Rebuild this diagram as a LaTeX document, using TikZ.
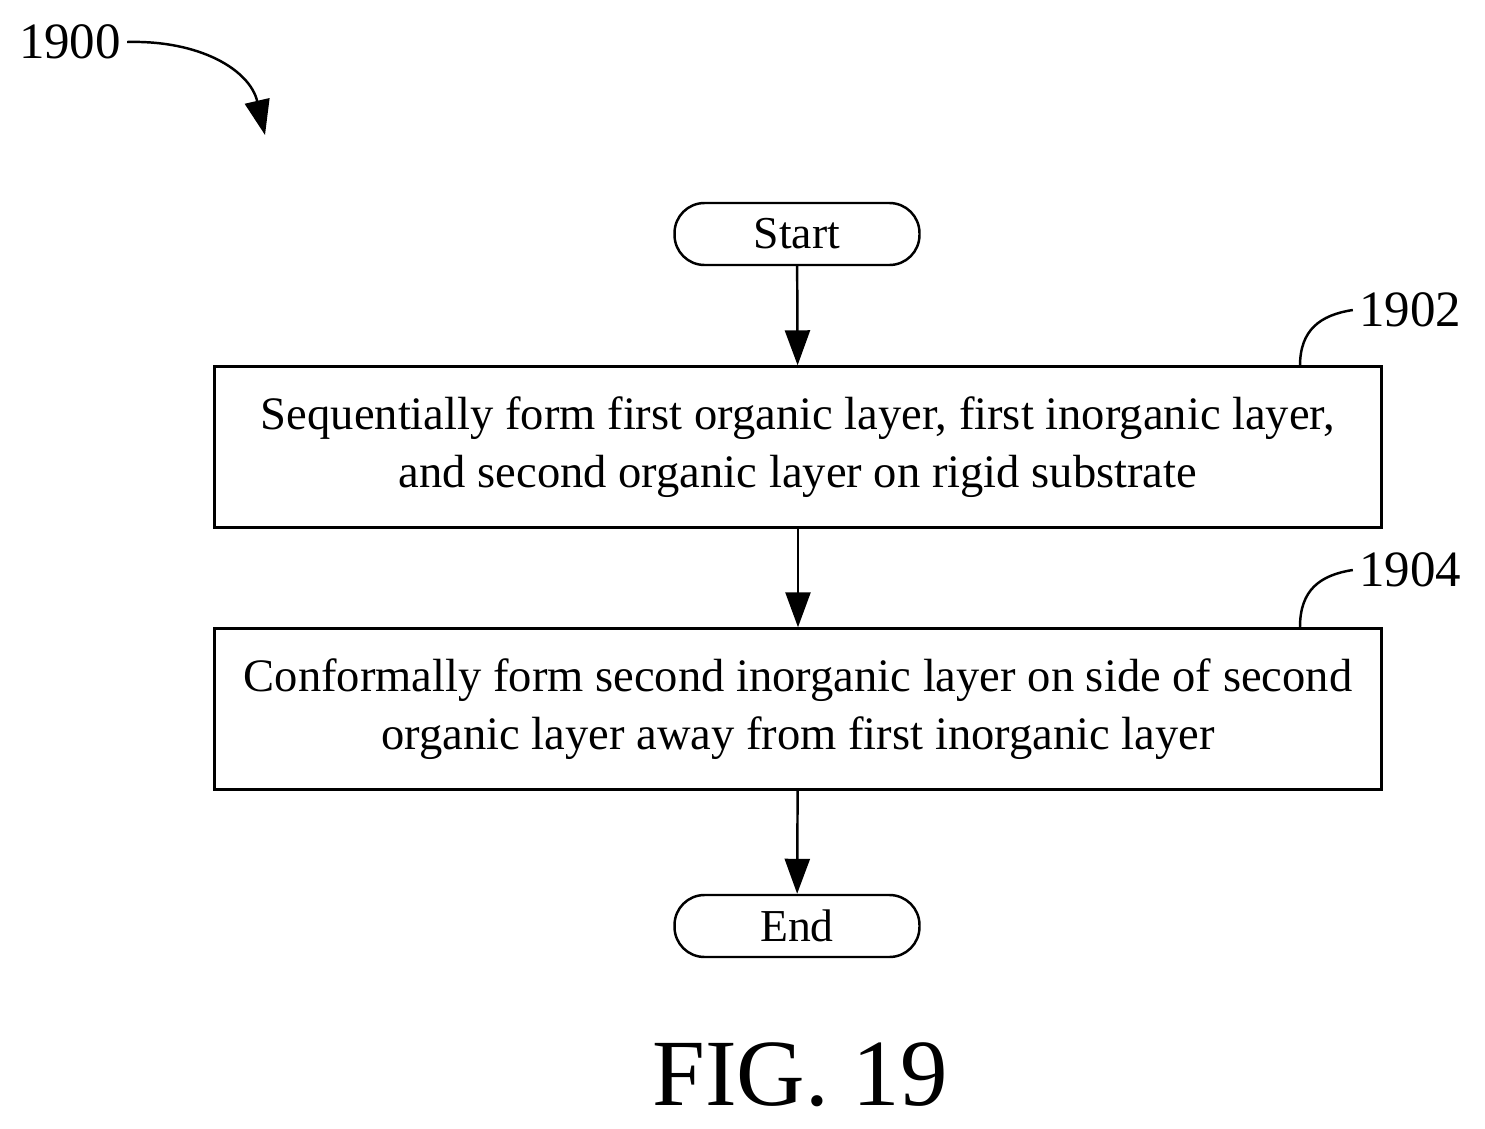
\documentclass[tikz,border=0pt]{standalone}
\usepackage{fontspec}
\setmainfont{Liberation Serif}
\usetikzlibrary{arrows.meta,positioning}
\begin{document}
\begin{tikzpicture}[x=0.02cm, y=-0.02cm,
  term/.style = {draw, line width=1.4pt, rounded corners=0.6cm, minimum width=4.9cm, minimum height=1.24cm, font=\fontsize{26}{28}\selectfont},
  box/.style = {draw, line width=1.4pt, minimum width=23.34cm, minimum height=3.22cm, align=center, font=\fontsize{26.5}{33}\selectfont},
  ref/.style = {font=\fontsize{29}{30}\selectfont},
  flow/.style = {-{Triangle[length=0.7cm, width=0.5cm]}, line width=1.4pt}]
\useasboundingbox (0,0) rectangle (1485,1129);
\node[term] (start) at (797,234) {Start};
\node[box] (1902) at (798,447) {Sequentially form first organic layer, first inorganic layer,\\and second organic layer on rigid substrate};
\node[box] (1904) at (798,709) {Conformally form second inorganic layer on side of second\\organic layer away from first inorganic layer};
\node[term] (end) at (797,926) {End};
\draw[flow] (start) -- (1902);
\draw[flow] (1902) -- (1904);
\draw[flow] (1904) -- (end);
% reference labels
\node[ref] (l1900) at (70,42) {1900};
\node[ref] (l1902) at (1410,310) {1902};
\node[ref] (l1904) at (1410,570) {1904};
\coordinate (a1900) at (265,135);
\draw[flow] (l1900.east) .. controls (200,40) and (250,70) .. (a1900);
\draw[line width=1.4pt] (1300,366) .. controls (1300,330) and (1320,315) .. (l1902.west);
\draw[line width=1.4pt] (1300,627) .. controls (1300,590) and (1320,575) .. (l1904.west);
\node[font=\fontsize{54}{56}\selectfont] (fig) at (800,1075) {FIG. 19};
\end{tikzpicture}
\end{document}
